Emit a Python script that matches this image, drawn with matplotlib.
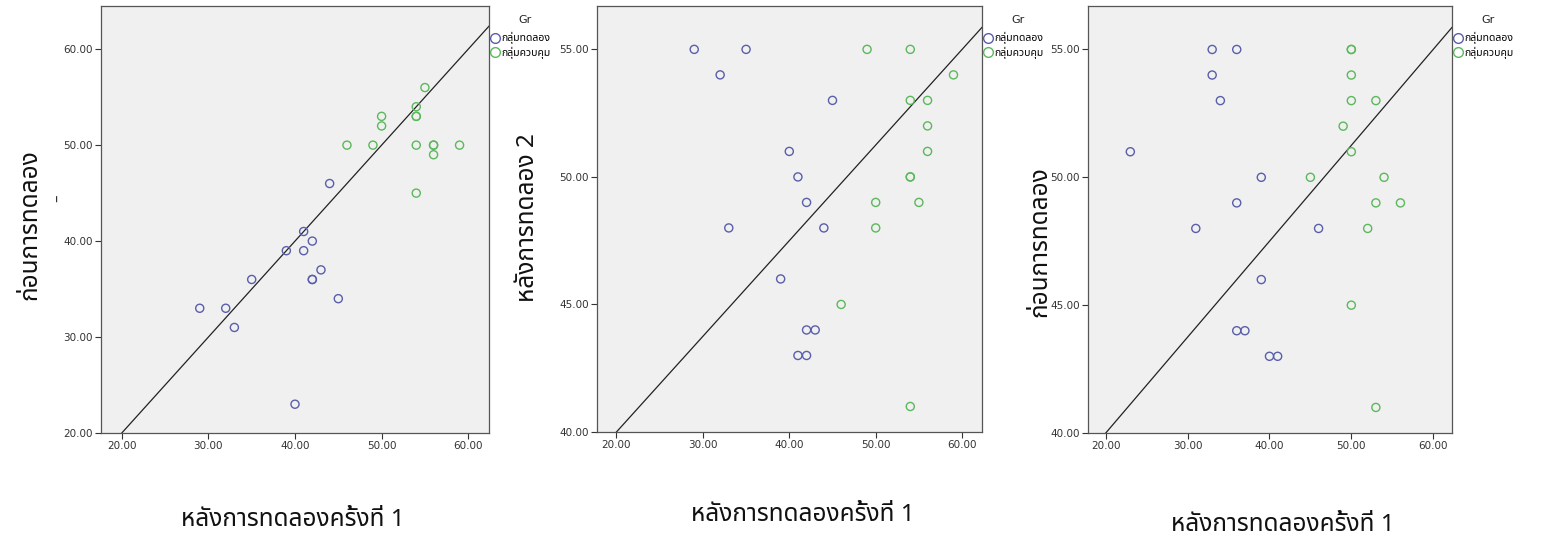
import matplotlib
matplotlib.use("Agg")
import matplotlib.pyplot as plt
from matplotlib import font_manager
from matplotlib.ft2font import FT2Font
from matplotlib.lines import Line2D

# ---------------- data ----------------
groups = ["กลุ่มทดลอง", "กลุ่มควบคุม"]
legend_title = "Gr"

# panel 1: x = หลังการทดลองครั้งที่ 1, y = ก่อนการทดลอง
p1_exp_x = [29, 32, 33, 35, 39, 41, 41, 42, 42, 42, 43, 44, 45, 40]
p1_exp_y = [33, 33, 31, 36, 39, 41, 39, 40, 36, 36, 37, 46, 34, 23]
p1_ctl_x = [46, 49, 50, 50, 54, 54, 54, 55, 54, 56, 56, 56, 59, 54]
p1_ctl_y = [50, 50, 53, 52, 54, 53, 53, 56, 50, 50, 50, 49, 50, 45]

# panel 2: x = หลังการทดลองครั้งที่ 1, y = หลังการทดลอง 2
p2_exp_x = [29, 35, 32, 45, 40, 41, 42, 33, 44, 39, 42, 43, 41, 42]
p2_exp_y = [55, 55, 54, 53, 51, 50, 49, 48, 48, 46, 44, 44, 43, 43]
p2_ctl_x = [49, 54, 59, 54, 56, 56, 56, 54, 54, 50, 55, 50, 46, 54]
p2_ctl_y = [55, 55, 54, 53, 53, 52, 51, 50, 50, 49, 49, 48, 45, 41]

# panel 3: x = หลังการทดลองครั้งที่ 1, y = ก่อนการทดลอง
p3_exp_x = [33, 36, 33, 34, 23, 39, 36, 31, 46, 39, 36, 37, 40, 41]
p3_exp_y = [55, 55, 54, 53, 51, 50, 49, 48, 48, 46, 44, 44, 43, 43]
p3_ctl_x = [50, 50, 50, 50, 53, 49, 50, 45, 54, 53, 56, 52, 50, 53]
p3_ctl_y = [55, 55, 54, 53, 53, 52, 51, 50, 50, 49, 49, 48, 45, 41]

x_ticks = [20, 30, 40, 50, 60]
p1_y_ticks = [20, 30, 40, 50, 60]
p23_y_ticks = [40, 45, 50, 55]

xlabel = "หลังการทดลองครั้งที่ 1"
ylabels = ["ก่อนการทดลอง", "หลังการทดลอง 2", "ก่อนการทดลอง"]

# reference lines: (x0, y0) -> (x1, y1)
ref_lines = [((20, 20), (60, 60)), ((20, 40), (60, 55)), ((20, 40), (60, 55))]

# ---------------- font with Thai coverage ----------------
thai_font = None
cands = []
for f in font_manager.fontManager.ttflist:
    try:
        cm = FT2Font(f.fname).get_charmap()
    except Exception:
        continue
    if 0x0E01 in cm and 0x0E31 in cm:
        cands.append(f.name)
pref = ["Noto Sans Thai", "Noto Sans Thai UI", "Loma", "Garuda", "Tlwg Typist", "Noto Serif Thai"]
for p in pref:
    if p in cands:
        thai_font = p
        break
if thai_font is None and cands:
    thai_font = sorted(set(cands))[0]
fam = [thai_font, "DejaVu Sans"] if thai_font else ["DejaVu Sans"]
plt.rcParams["font.family"] = fam

W, H = 1555, 541
fig = plt.figure(figsize=(W / 100, H / 100), dpi=100)

def box(l, r, t, b):
    return [l / W, (H - b) / H, (r - l) / W, (b - t) / H]

spine_right = [489, 982, 1452]
axes_boxes = [box(101, 489, 6, 433), box(597, 982, 6, 432), box(1088, 1452, 6, 433)]
xlims = [(17.6, 62.4), (17.75, 62.3), (17.83, 62.3)]
ylims = [(20, 64.5), (40, 56.7), (40, 56.7)]
yticks = [p1_y_ticks, p23_y_ticks, p23_y_ticks]
data = [
    (p1_exp_x, p1_exp_y, p1_ctl_x, p1_ctl_y),
    (p2_exp_x, p2_exp_y, p2_ctl_x, p2_ctl_y),
    (p3_exp_x, p3_exp_y, p3_ctl_x, p3_ctl_y),
]
blue = "#5a5eab"
green = "#5cb85c"

for i in range(3):
    ax = fig.add_axes(axes_boxes[i])
    ax.set_facecolor("#f0f0f0")
    ex, ey, cx, cy = data[i]
    ax.scatter(ex, ey, s=34, facecolors="none", edgecolors=blue, linewidths=1.0, zorder=3)
    ax.scatter(cx, cy, s=34, facecolors="none", edgecolors=green, linewidths=1.0, zorder=3)
    (x0, y0), (x1, y1) = ref_lines[i]
    slope = (y1 - y0) / (x1 - x0)
    xe = xlims[i][1]
    ax.plot([x0, xe], [y0, y0 + slope * (xe - x0)], color="#222222", lw=0.9, zorder=2)
    ax.set_xlim(*xlims[i])
    ax.set_ylim(*ylims[i])
    ax.set_xticks(x_ticks)
    ax.set_yticks(yticks[i])
    ax.set_xticklabels([f"{v:.2f}" for v in x_ticks], family="DejaVu Sans")
    ax.set_yticklabels([f"{v:.2f}" for v in yticks[i]], family="DejaVu Sans")
    ax.tick_params(labelsize=7.5, colors="#333333", length=4.5, width=0.8, pad=1.5)
    for sp in ax.spines.values():
        sp.set_color("#555555")
        sp.set_linewidth(0.9)
    handles = [
        Line2D([], [], marker="o", ls="none", markerfacecolor="none", markeredgecolor=blue, markersize=7, mew=1.0),
        Line2D([], [], marker="o", ls="none", markerfacecolor="none", markeredgecolor=green, markersize=7, mew=1.0),
    ]
    sr = spine_right[i]
    ax.legend(handles, groups, loc="upper left",
              bbox_to_anchor=((sr + 1) / W, 1 - 32 / H), bbox_transform=fig.transFigure,
              frameon=False, fontsize=7.5, handletextpad=0.1,
              handlelength=1.0, borderaxespad=0.0, labelspacing=0.25, borderpad=0.0)
    fig.text((sr + 36) / W, 1 - 20 / H, legend_title, ha="center", va="center",
             fontsize=8, color="#222222", family="DejaVu Sans")

# axis titles as figure text
ylabel_pos = [(30, 225), (528, 218), (1040, 242)]
xlabel_pos = [(293, 520), (803, 515), (1283, 525)]
for i in range(3):
    fig.text(ylabel_pos[i][0] / W, 1 - ylabel_pos[i][1] / H, ylabels[i], rotation=90,
             ha="center", va="center", fontsize=17.5, color="#111111")
    fig.text(xlabel_pos[i][0] / W, 1 - xlabel_pos[i][1] / H, xlabel,
             ha="center", va="center", fontsize=17.5, color="#111111")
fig.text(57 / W, 1 - 198 / H, "\u2013", rotation=90, ha="center", va="center",
         fontsize=11, color="#333333", family="DejaVu Sans")

fig.savefig("out.png", dpi=100)
